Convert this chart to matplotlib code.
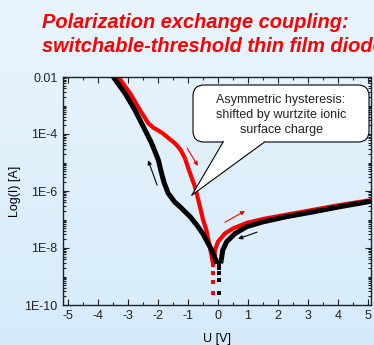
import numpy as np
import matplotlib
matplotlib.use("Agg")
import matplotlib.pyplot as plt
import matplotlib.ticker as mticker
import matplotlib.transforms as mtransforms
from matplotlib.patches import FancyBboxPatch, Polygon

plt.rcParams['font.family'] = ['Liberation Sans', 'DejaVu Sans']
plt.rcParams['axes.unicode_minus'] = False

# forward sweep (red), negative branch then positive branch
red_neg_u = [-3.32, -2.93, -2.6, -2.32, -2.15, -2.0, -1.85, -1.71, -1.43, -1.25, -1.1, -0.99, -0.77, -0.63, -0.5, -0.38, -0.21, -0.17]
red_neg_logi = [-2.0, -2.57, -3.16, -3.63, -3.78, -3.87, -3.97, -4.09, -4.33, -4.55, -4.85, -5.2, -5.85, -6.43, -7.0, -7.4, -8.3, -8.53]
red_pos_u = [-0.13, -0.1, 0.0, 0.23, 0.51, 0.96, 1.51, 2.29, 3.18, 4.07, 5.1]
red_pos_logi = [-8.53, -8.07, -7.78, -7.49, -7.31, -7.12, -6.98, -6.83, -6.66, -6.49, -6.32]
red_dot_u = [-0.17, -0.17, -0.17, -0.17]
red_dot_logi = [-8.6, -8.88, -9.2, -9.58]

# reverse sweep (black)
blk_neg_u = [-3.49, -3.1, -2.77, -2.49, -2.21, -1.99, -1.9, -1.8, -1.66, -1.45, -1.27, -0.93, -0.71, -0.51, -0.36, -0.21, -0.1, -0.02]
blk_neg_logi = [-2.0, -2.57, -3.16, -3.74, -4.33, -4.91, -5.3, -5.7, -6.08, -6.38, -6.55, -6.9, -7.19, -7.49, -7.78, -8.07, -8.36, -8.54]
blk_pos_u = [0.09, 0.16, 0.29, 0.57, 0.96, 1.51, 2.29, 3.18, 4.07, 5.1]
blk_pos_logi = [-8.54, -8.07, -7.78, -7.49, -7.25, -7.08, -6.9, -6.73, -6.55, -6.36]
blk_dot_u = [0.03, 0.03, 0.03, 0.03, 0.03]
blk_dot_logi = [-8.6, -8.7, -8.88, -9.12, -9.58]

y_ticks = [1e-10, 1e-8, 1e-6, 1e-4, 1e-2]
y_labels = ["1E-10", "1E-8", "1E-6", "1E-4", "0.01"]
x_ticks = [-5, -4, -3, -2, -1, 0, 1, 2, 3, 4, 5]

W, H = 374, 345
fig = plt.figure(figsize=(W / 100, H / 100), dpi=100)

# light blue gradient background
bg = fig.add_axes([0, 0, 1, 1], zorder=-10)
grad = np.linspace(0, 1, 256)[:, None]
top_c = np.array([233, 245, 253]) / 255
bot_c = np.array([214, 235, 250]) / 255
img = top_c[None, None, :] * (1 - grad[..., None]) + bot_c[None, None, :] * grad[..., None]
bg.imshow(img, aspect='auto', extent=[0, 1, 0, 1])
bg.axis('off')

ax = fig.add_axes([63 / W, 1 - 305 / H, 308 / W, 228 / H])
ax.set_facecolor('none')

line_kw = dict(solid_joinstyle='round', solid_capstyle='butt')
ax.plot(red_neg_u, 10 ** np.array(red_neg_logi), color='#ff0000', lw=3.0, **line_kw)
ax.plot(red_pos_u, 10 ** np.array(red_pos_logi), color='#ff0000', lw=3.0, **line_kw)
ax.plot(red_dot_u, 10 ** np.array(red_dot_logi), ls='none', marker='s', ms=2.2, color='#ff0000', mew=0)
ax.plot(blk_neg_u, 10 ** np.array(blk_neg_logi), color='black', lw=3.6, **line_kw)
ax.plot(blk_pos_u, 10 ** np.array(blk_pos_logi), color='black', lw=3.6, **line_kw)
ax.plot(blk_dot_u, 10 ** np.array(blk_dot_logi), ls='none', marker='s', ms=2.2, color='black', mew=0)

# sweep direction arrows
arrows = [((-1.03, 3.2e-5), (-0.67, 7.6e-6), 'red'),
          ((-2.03, 1.6e-6), (-2.33, 1.2e-5), 'black'),
          ((0.23, 8e-8), (0.9, 2e-7), 'red'),
          ((1.3, 3.6e-8), (0.67, 2.1e-8), 'black')]
for tail, head, c in arrows:
    ax.annotate('', xy=head, xytext=tail,
                arrowprops=dict(arrowstyle='-|>', color=c, lw=0.8, mutation_scale=6,
                                shrinkA=0, shrinkB=0))

ax.set_yscale('log')
ax.set_xlim(-5.167, 5.1)
ax.set_ylim(1e-10, 1e-2)
ax.yaxis.set_major_locator(mticker.FixedLocator(y_ticks))
ax.yaxis.set_major_formatter(mticker.FixedFormatter(y_labels))
ax.yaxis.set_minor_locator(mticker.LogLocator(base=10, subs=np.arange(1, 10), numticks=30))
ax.yaxis.set_minor_formatter(mticker.NullFormatter())
ax.xaxis.set_major_locator(mticker.FixedLocator(x_ticks))
ax.xaxis.set_minor_locator(mticker.MultipleLocator(0.5))

ax.tick_params(which='both', direction='in', top=True, right=True, width=0.8, colors='#222222', labelsize=9)
ax.tick_params(which='major', length=4)
ax.tick_params(which='minor', length=2.2)
ax.tick_params(axis='y', pad=4)
ax.tick_params(axis='x', pad=3.5)
for s in ax.spines.values():
    s.set_linewidth(1.0)
    s.set_color('#222222')

ax.set_xlabel('U [V]', fontsize=9, labelpad=8)
ax.set_ylabel('Log(I) [A]', fontsize=9, labelpad=2)

# title
title_kw = dict(color='#ff0000', fontsize=14.4, fontweight='bold', fontstyle='italic',
                ha='left', va='baseline')
fig.text(42 / W, 1 - 28 / H, 'Polarization exchange coupling:', **title_kw)
fig.text(42 / W, 1 - 51.5 / H, 'switchable-threshold thin film diode', **title_kw)

# callout, laid out in pixel units (origin top-left)
px = mtransforms.Affine2D().scale(1 / W, -1 / H).translate(0, 1) + fig.transFigure
box = FancyBboxPatch((193, 85), 176, 57, boxstyle='round,pad=0,rounding_size=11',
                     transform=px, facecolor='white', edgecolor='black', lw=0.8,
                     zorder=6, clip_on=False)
fig.add_artist(box)
tip = (192, 195)
tail_fill = Polygon([(224.8, 139), (269.1, 139), tip], closed=True, transform=px,
                    facecolor='white', edgecolor='none', zorder=7)
fig.add_artist(tail_fill)
for base in [(223.3, 141.7), (265, 141.7)]:
    fig.add_artist(plt.Line2D([base[0], tip[0]], [base[1], tip[1]], transform=px,
                              color='black', lw=0.8, zorder=8))
fig.text(281 / W, 1 - 115 / H, 'Asymmetric hysteresis:\nshifted by wurtzite ionic\nsurface charge',
         ha='center', va='center', fontsize=9, linespacing=1.3, color='#222222', zorder=9)

fig.savefig('out.png', dpi=100)
